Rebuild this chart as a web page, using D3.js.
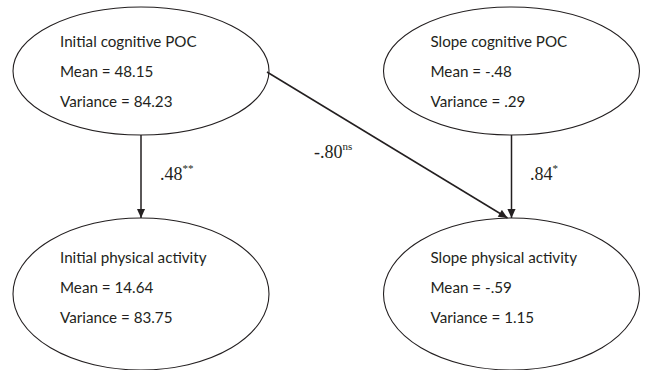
<!DOCTYPE html>
<html>
<head>
<meta charset="utf-8">
<script src="https://cdn.jsdelivr.net/npm/d3@7"></script>
<style>
  html, body { margin: 0; padding: 0; background: #fff; }
  svg { display: block; }
</style>
</head>
<body>
<svg id="chart" width="645" height="370"></svg>
<script>
// Latent growth constructs (ellipses), in drawing order: top-left, top-right, bottom-left, bottom-right
const constructs = ["Initial cognitive POC", "Slope cognitive POC", "Initial physical activity", "Slope physical activity"];
const means = ["48.15", "-.48", "14.64", "-.59"];
const variances = ["84.23", ".29", "83.75", "1.15"];
const columns = [0, 1, 0, 1];
const rows = [0, 0, 1, 1];

// Structural paths between constructs
const pathFrom = [0, 1, 0];
const pathTo = [2, 3, 3];
const coefficients = [".48", ".84", "-.80"];
const significance = ["**", "*", "ns"];

const svg = d3.select("#chart");
const ink = "#231f20";

// Layout scales
const x = d3.scaleLinear().domain([0, 1]).range([141, 511.5]);
const y = d3.scaleLinear().domain([0, 1]).range([71, 294]);
const rx = 128;
const ry = d3.scaleOrdinal().domain([0, 1]).range([64, 76]);

const nodes = constructs.map((name, i) => ({
  name, mean: means[i], variance: variances[i],
  cx: x(columns[i]), cy: y(rows[i]), rx, ry: ry(rows[i])
}));

// Arrow marker
svg.append("defs").append("marker")
  .attr("id", "head")
  .attr("viewBox", "0 0 10 10")
  .attr("refX", 10).attr("refY", 5)
  .attr("markerUnits", "userSpaceOnUse")
  .attr("markerWidth", 10).attr("markerHeight", 9)
  .attr("orient", "auto")
  .append("path").attr("d", "M0,0.5 L10,5 L0,9.5 Z").attr("fill", ink);

// Ellipses
svg.selectAll("ellipse.node").data(nodes).join("ellipse")
  .attr("class", "node")
  .attr("cx", d => d.cx).attr("cy", d => d.cy)
  .attr("rx", d => d.rx).attr("ry", d => d.ry)
  .attr("fill", "none").attr("stroke", ink).attr("stroke-width", 1.1);

// Text in ellipses
const textGroups = svg.selectAll("g.label").data(nodes).join("g").attr("class", "label")
  .attr("font-family", "Lato, 'Open Sans', sans-serif")
  .attr("font-size", 15.2)
  .attr("fill", ink);
const firstBaseline = [-24, -31];
textGroups.each(function(d, i) {
  const g = d3.select(this);
  const lines = [d.name, "Mean = " + d.mean, "Variance = " + d.variance];
  const b0 = d.cy + firstBaseline[rows[i]];
  g.selectAll("text").data(lines).join("text")
    .attr("x", d.cx - 81)
    .attr("y", (t, k) => b0 + k * 30)
    .text(t => t);
});

// Anchor points for paths: vertical arrows go bottom→top, diagonal leaves from the right edge
function anchors(k) {
  const s = nodes[pathFrom[k]], t = nodes[pathTo[k]];
  if (s.cx === t.cx) {
    return [[s.cx, s.cy + s.ry], [t.cx, t.cy - t.ry]];
  }
  return [[s.cx + s.rx - 2, s.cy + 1], [t.cx - 4, t.cy - t.ry]];
}

const line = d3.line();
const paths = pathFrom.map((_, k) => ({ k, pts: anchors(k) }));
svg.selectAll("path.edge").data(paths).join("path")
  .attr("class", "edge")
  .attr("d", d => line(d.pts))
  .attr("fill", "none").attr("stroke", ink).attr("stroke-width", 1.5)
  .attr("marker-end", "url(#head)");

// Coefficient labels with significance superscripts
const labelPos = [[160, 180], [530, 180], [314, 157.5]];
paths.forEach(d => {
  const [lx, ly] = labelPos[d.k];
  const t = svg.append("text")
    .attr("x", lx).attr("y", ly)
    .style("font-family", "'Liberation Serif', 'DejaVu Serif', serif")
    .attr("font-size", 18)
    .attr("fill", ink);
  t.append("tspan").text(coefficients[d.k]);
  t.append("tspan")
    .attr("font-size", 11)
    .attr("dy", -8)
    .text(significance[d.k]);
});
</script>
</body>
</html>
